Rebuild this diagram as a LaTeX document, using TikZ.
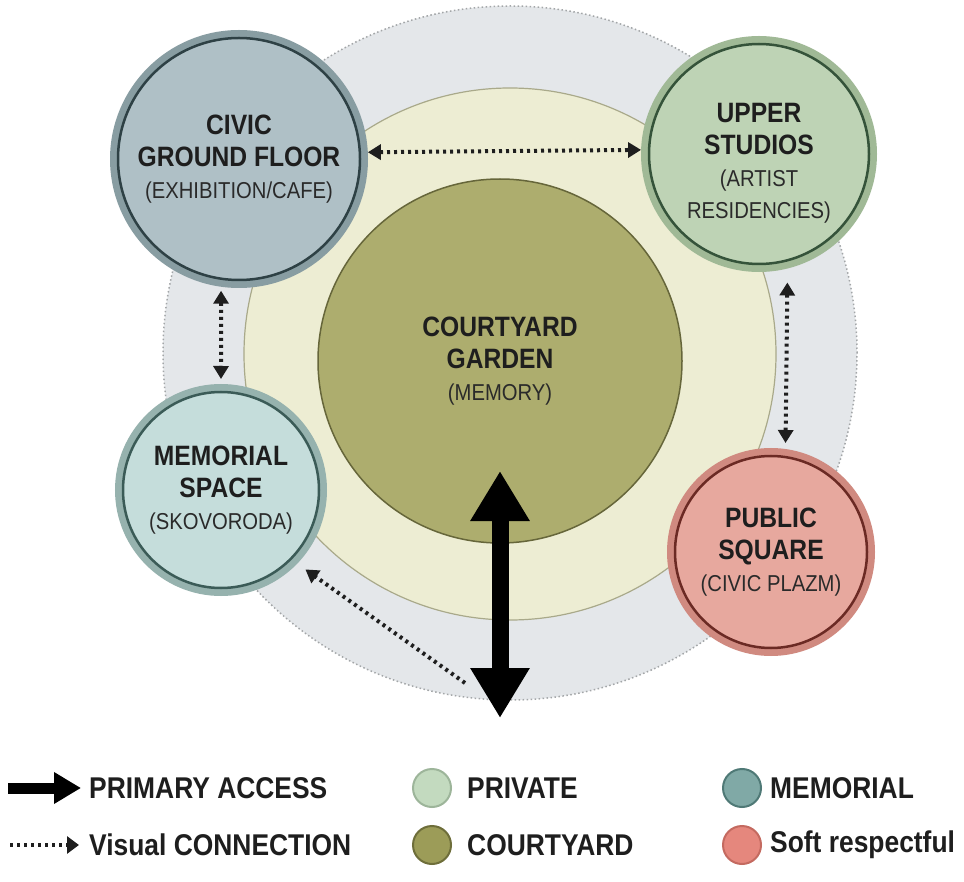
\documentclass[tikz,border=0pt]{standalone}
\usepackage{fontspec}
\setmainfont{Liberation Sans}
\newfontfamily\condfont[FakeStretch=0.88]{Liberation Sans}
\usetikzlibrary{arrows.meta}
\definecolor{outerc}{HTML}{E4E7EA}
\definecolor{outeredge}{HTML}{A3A6A8}
\definecolor{midc}{HTML}{EDEDD3}
\definecolor{midedge}{HTML}{A9A98A}
\definecolor{courtc}{HTML}{ADAD6E}
\definecolor{courtedge}{HTML}{66663A}
\definecolor{civicf}{HTML}{AFC0C6}
\definecolor{civicr}{HTML}{889DA2}
\definecolor{civicd}{HTML}{2E4145}
\definecolor{upperf}{HTML}{BED3B5}
\definecolor{upperr}{HTML}{A0B996}
\definecolor{upperd}{HTML}{35533A}
\definecolor{memf}{HTML}{C5DDDB}
\definecolor{memr}{HTML}{96B2AE}
\definecolor{memd}{HTML}{3B5B57}
\definecolor{pubf}{HTML}{E7A89E}
\definecolor{pubr}{HTML}{D08A80}
\definecolor{pubd}{HTML}{6B2A24}
\definecolor{inkc}{HTML}{1E1E1E}
\definecolor{subc}{HTML}{2A2A2A}
\definecolor{lgpriv}{HTML}{C3DABF}
\definecolor{lgprivd}{HTML}{9DB59A}
\definecolor{lgcourt}{HTML}{9C9C58}
\definecolor{lgcourtd}{HTML}{6E6E3A}
\definecolor{lgmem}{HTML}{80A9A6}
\definecolor{lgmemd}{HTML}{4F7976}
\definecolor{lgsoft}{HTML}{E5877D}
\definecolor{lgsoftd}{HTML}{C46A60}
\newcommand\TitleF{\condfont\bfseries\fontsize{28}{32}\selectfont}
\newcommand\SubF{\condfont\mdseries\fontsize{23}{29}\selectfont\color{subc}}
\newcommand\SubT{\condfont\mdseries\fontsize{23}{27}\selectfont\color{subc}}
\newcommand\LegF{\condfont\bfseries\fontsize{30}{34}\selectfont}
\begin{document}
\begin{tikzpicture}[x=1pt,y=-1pt,
  zone/.style n args={3}{circle, inner sep=0pt, outer sep=8pt, align=center,
    text=inkc, font=\TitleF, fill=#1, draw=#3, line width=2.5pt,
    preaction={draw=#2, line width=16pt}},
  vis/.style={draw=inkc, line width=4pt, dash pattern=on 3pt off 4pt},
  vtip/.tip={Triangle[length=13pt,width=15pt]},
  atip/.tip={Triangle[length=50pt,width=56pt]},
  access/.style={draw=black, line width=17pt, atip-atip},
  legdot/.style={circle, inner sep=0pt, minimum size=38pt, line width=2pt},
  legtext/.style={anchor=west, inner sep=0pt, font=\LegF, text=inkc}]
\useasboundingbox (0,0) rectangle (964,882);
\fill[white] (0,0) rectangle (964,882);

% background rings
\node[circle, inner sep=0pt, minimum size=694pt, fill=outerc, draw=outeredge,
  line width=1.5pt, dash pattern=on 1.5pt off 2.5pt] (outer) at (510,353) {};
\node[circle, inner sep=0pt, minimum size=532pt, fill=midc, draw=midedge,
  line width=1.2pt] (middle) at (510,354) {};
\node[circle, inner sep=0pt, minimum size=364pt, fill=courtc, draw=courtedge,
  line width=1.5pt, align=center, text=inkc, font=\TitleF] (court) at (500,361)
  {COURTYARD\\GARDEN\\\SubF(MEMORY)};

% zones
\node[zone={civicf}{civicr}{civicd}, minimum size=242pt] (civic) at (239,159)
  {CIVIC\\GROUND FLOOR\\\SubF(EXHIBITION/CAFE)};
\node[zone={upperf}{upperr}{upperd}, minimum size=220pt] (upper) at (759,154)
  {\rule{0pt}{38pt}UPPER\\STUDIOS\\\SubF(ARTIST\\\SubT RESIDENCIES)};
\node[zone={memf}{memr}{memd}, minimum size=196pt] (memorial) at (221,490)
  {MEMORIAL\\SPACE\\\SubF(SKOVORODA)};
\node[zone={pubf}{pubr}{pubd}, minimum size=192pt] (public) at (771,552)
  {PUBLIC\\SQUARE\\\SubF(CIVIC PLAZM)};

% visual connections
\draw[vis, vtip-vtip] (civic.3) -- (upper.178);
\draw[vis, vtip-vtip, shorten <=4pt, shorten >=5pt] (civic.262) -- (memorial.90);
\draw[vis, vtip-vtip, shorten <=14pt, shorten >=6pt] (upper.-76.2) -- (public.82.3);
\coordinate (vstart) at (465,683);
\draw[vis, -vtip, shorten >=10pt] (vstart) -- (memorial.-44);

% primary access
\coordinate (accbot) at (500,718);
\coordinate (acctop) at (500,471);
\draw[access] (accbot) -- (acctop);

% legend
\coordinate (la1) at (8,788);
\coordinate (la2) at (81,788);
\draw[draw=black, line width=11pt, -{Triangle[length=27pt,width=30pt]}] (la1) -- (la2);
\node[legtext] (lt1) at (89,788) {PRIMARY ACCESS};
\coordinate (lb1) at (10,845);
\coordinate (lb2) at (79,845);
\draw[draw=inkc, line width=4pt, dash pattern=on 3pt off 4pt,
  -{Triangle[length=12pt,width=17pt]}] (lb1) -- (lb2);
\node[legtext] (lt2) at (89,845) {Visual CONNECTION};
\node[legdot, fill=lgpriv, draw=lgprivd] (ld1) at (432,788) {};
\node[legtext] (lt3) at (467,788) {PRIVATE};
\node[legdot, fill=lgcourt, draw=lgcourtd] (ld2) at (432,845) {};
\node[legtext] (lt4) at (467,845) {COURTYARD};
\node[legdot, fill=lgmem, draw=lgmemd] (ld3) at (742,788) {};
\node[legtext] (lt5) at (770,788) {MEMORIAL};
\node[legdot, fill=lgsoft, draw=lgsoftd] (ld4) at (742,845) {};
\node[legtext] (lt6) at (770,845) {Soft respectful};
\end{tikzpicture}
\end{document}
